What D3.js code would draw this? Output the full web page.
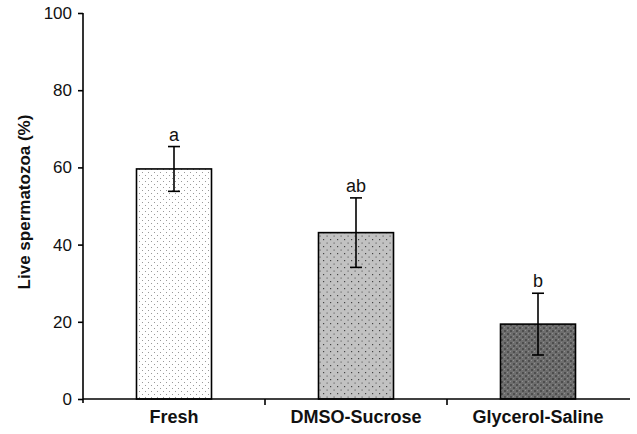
<!DOCTYPE html>
<html>
<head>
<meta charset="utf-8">
<script src="https://cdn.jsdelivr.net/npm/d3@7"></script>
<style>
  html, body { margin: 0; padding: 0; background: #fff; }
  svg { display: block; }
</style>
</head>
<body>
<svg id="chart" width="637" height="434"></svg>
<script>
const categories = ["Fresh", "DMSO-Sucrose", "Glycerol-Saline"];
const means = [59.6, 43.1, 19.4];
const errors = [5.8, 9.0, 8.0];
const letters = ["a", "ab", "b"];
const yTicks = [0, 20, 40, 60, 80, 100];
const yLabel = "Live spermatozoa (%)";

const svg = d3.select("#chart");
const margin = { left: 83, right: 8, top: 13, bottom: 35 };
const x = d3.scaleBand().domain(categories).range([margin.left, 629]).paddingInner(0).paddingOuter(0);
const y = d3.scaleLinear().domain([0, 100]).range([399, 13]);

// patterns
const defs = svg.append("defs");
const p1 = defs.append("pattern").attr("id", "pFresh").attr("patternUnits", "userSpaceOnUse")
  .attr("width", 6).attr("height", 6);
p1.append("rect").attr("width", 6).attr("height", 6).attr("fill", "#fff");
p1.append("rect").attr("x", 1).attr("y", 1).attr("width", 1).attr("height", 1).attr("fill", "#999");
p1.append("rect").attr("x", 4).attr("y", 4).attr("width", 1).attr("height", 1).attr("fill", "#999");

const p2 = defs.append("pattern").attr("id", "pDmso").attr("patternUnits", "userSpaceOnUse")
  .attr("width", 7).attr("height", 7);
p2.append("rect").attr("width", 7).attr("height", 7).attr("fill", "#c2c2c2");
p2.append("rect").attr("x", 1).attr("y", 1).attr("width", 1.2).attr("height", 1.2).attr("fill", "#444");
p2.append("rect").attr("x", 4.5).attr("y", 4.5).attr("width", 1.2).attr("height", 1.2).attr("fill", "#6a6a6a");

const p3 = defs.append("pattern").attr("id", "pGly").attr("patternUnits", "userSpaceOnUse")
  .attr("width", 6).attr("height", 6);
p3.append("rect").attr("width", 6).attr("height", 6).attr("fill", "#6e6e6e");
p3.append("rect").attr("x", 0).attr("y", 0).attr("width", 2).attr("height", 2).attr("fill", "#4e4e4e");
p3.append("rect").attr("x", 3).attr("y", 3).attr("width", 2).attr("height", 2).attr("fill", "#4e4e4e");
p3.append("rect").attr("x", 3).attr("y", 0).attr("width", 1).attr("height", 1).attr("fill", "#8e8e8e");
p3.append("rect").attr("x", 0).attr("y", 3).attr("width", 1).attr("height", 1).attr("fill", "#8e8e8e");
const fills = ["url(#pFresh)", "url(#pDmso)", "url(#pGly)"];

const barW = 75;
const data = categories.map((c, i) => ({ c, m: means[i], e: errors[i], l: letters[i], f: fills[i] }));

// bars
svg.append("g").selectAll("rect").data(data).join("rect")
  .attr("x", d => x(d.c) + x.bandwidth() / 2 - barW / 2)
  .attr("y", d => y(d.m))
  .attr("width", barW)
  .attr("height", d => y(0) - y(d.m))
  .attr("fill", d => d.f)
  .attr("stroke", "#000")
  .attr("stroke-width", 1.6);

// error bars
const eg = svg.append("g").attr("stroke", "#000").attr("stroke-width", 1.6);
data.forEach(d => {
  const cx = x(d.c) + x.bandwidth() / 2;
  eg.append("line").attr("x1", cx).attr("x2", cx).attr("y1", y(d.m + d.e)).attr("y2", y(d.m - d.e));
  eg.append("line").attr("x1", cx - 6).attr("x2", cx + 6).attr("y1", y(d.m + d.e)).attr("y2", y(d.m + d.e));
  eg.append("line").attr("x1", cx - 6).attr("x2", cx + 6).attr("y1", y(d.m - d.e)).attr("y2", y(d.m - d.e));
});

// letters
svg.append("g").selectAll("text").data(data).join("text")
  .attr("x", d => x(d.c) + x.bandwidth() / 2)
  .attr("y", d => y(d.m + d.e) - 6)
  .attr("text-anchor", "middle")
  .attr("font-family", "Liberation Sans, Arial, sans-serif")
  .attr("font-size", 18)
  .attr("fill", "#111")
  .text(d => d.l);

// y axis
const yAxis = svg.append("g").attr("transform", `translate(${margin.left},0)`)
  .call(d3.axisLeft(y).tickValues(yTicks).tickSize(5).tickPadding(6).tickFormat(d3.format("d")));
yAxis.select(".domain").attr("d", `M0,${y(100)}V${y(0) + 4}`).attr("stroke-width", 1.6);
yAxis.selectAll(".tick line").attr("stroke-width", 1.6);
yAxis.selectAll("text").attr("font-family", "Liberation Sans, Arial, sans-serif").attr("font-size", 17).attr("fill", "#111");

// x axis
const xAxis = svg.append("g").attr("transform", `translate(0,${y(0)})`)
  .call(d3.axisBottom(x).tickSize(0).tickPadding(11));
xAxis.select(".domain").attr("d", `M${margin.left},0H630`).attr("stroke-width", 1.6);
xAxis.selectAll("text").attr("font-family", "Liberation Sans, Arial, sans-serif").attr("font-size", 18)
  .attr("font-weight", "bold").attr("fill", "#111");
// category boundary ticks
const bounds = categories.slice(1).map(c => x(c));
xAxis.append("g").selectAll("line").data(bounds).join("line")
  .attr("x1", d => d).attr("x2", d => d).attr("y1", 0).attr("y2", 6)
  .attr("stroke", "#000").attr("stroke-width", 1.6);

// y label
svg.append("text")
  .attr("transform", `translate(30,${(y(0) + y(100)) / 2 - 4}) rotate(-90)`)
  .attr("text-anchor", "middle")
  .attr("font-family", "Liberation Sans, Arial, sans-serif")
  .attr("font-size", 17)
  .attr("font-weight", "bold")
  .attr("fill", "#111")
  .text(yLabel);
</script>
</body>
</html>
